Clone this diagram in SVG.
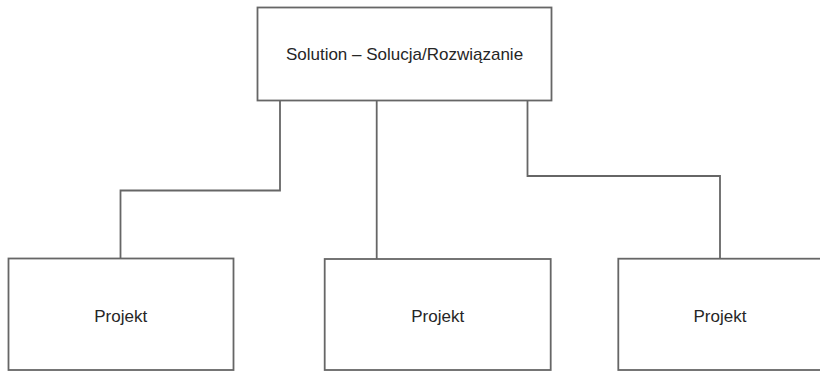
<svg xmlns="http://www.w3.org/2000/svg" width="820" height="372" viewBox="0 0 820 372">
<style>
.box{fill:#ffffff;stroke:#666666;stroke-width:1.8}
.lbl{font-family:"Liberation Sans",Arial,sans-serif;font-size:17px;fill:#262626;text-anchor:middle}
.conn{fill:none;stroke:#666666;stroke-width:1.8}
</style>
<rect width="820" height="372" fill="#ffffff"/>
<g id="connectors">
<path class="conn" d="M280,100.5 V190.5 H120.5 V258.5"/>
<path class="conn" d="M376.7,100.5 V259"/>
<path class="conn" d="M527.5,100.5 V176 H720 V258.5"/>
</g>
<g id="solution">
<rect class="box" x="257.5" y="7.5" width="294" height="93"/>
<text class="lbl" x="404.5" y="60">Solution – Solucja/Rozwiązanie</text>
</g>
<g id="projekt1">
<rect class="box" x="8.5" y="258.5" width="225" height="111.5"/>
<text class="lbl" x="120.7" y="321.5">Projekt</text>
</g>
<g id="projekt2">
<rect class="box" x="324.7" y="259" width="226" height="111"/>
<text class="lbl" x="437.7" y="321.5">Projekt</text>
</g>
<g id="projekt3">
<rect class="box" x="618.3" y="258.7" width="226" height="111.3"/>
<text class="lbl" x="720" y="321.5">Projekt</text>
</g>
</svg>
